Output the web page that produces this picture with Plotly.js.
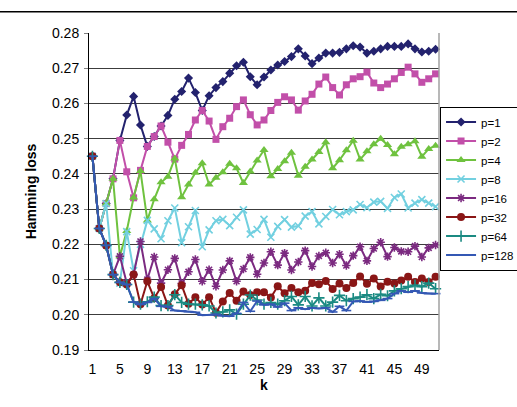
<!DOCTYPE html>
<html>
<head>
<meta charset="utf-8">
<script src="https://cdn.plot.ly/plotly-3.0.1.min.js"></script>
<style>
html,body{margin:0;padding:0;background:#fff;}
#chart{width:517px;height:407px;}
</style>
</head>
<body>
<div id="chart"></div>
<script>
const k = [];
for (let i = 1; i <= 51; i++) k.push(i);
const xTicks = [1,5,9,13,17,21,25,29,33,37,41,45,49];

const p1 = [0.2450,0.2245,0.2316,0.2386,0.2495,0.2567,0.2620,0.2539,0.2478,0.2506,
            0.2536,0.2566,0.2612,0.2634,0.2672,0.2631,0.2580,0.2622,0.2645,0.2662,
            0.2686,0.2707,0.2717,0.2676,0.2653,0.2675,0.2695,0.2709,0.2719,0.2733,
            0.2755,0.2735,0.2713,0.2729,0.2743,0.2743,0.2745,0.2755,0.2764,0.2760,
            0.2743,0.2748,0.2755,0.2762,0.2762,0.2762,0.2769,0.2755,0.2746,0.2748,0.2754];
const p2 = [0.2450,0.2245,0.2316,0.2386,0.2495,0.2406,0.2332,0.2410,0.2478,0.2506,
            0.2536,0.2490,0.2442,0.2481,0.2512,0.2553,0.2580,0.2550,0.2498,0.2534,
            0.2558,0.2591,0.2610,0.2568,0.2539,0.2553,0.2580,0.2603,0.2619,0.2610,
            0.2581,0.2607,0.2626,0.2655,0.2675,0.2645,0.2624,0.2653,0.2670,0.2676,
            0.2689,0.2658,0.2645,0.2655,0.2670,0.2688,0.2703,0.2684,0.2660,0.2670,0.2684];
const p4 = [0.2450,0.2245,0.2316,0.2386,0.2166,0.2238,0.2333,0.2408,0.2268,0.2328,
            0.2376,0.2392,0.2444,0.2334,0.2370,0.2403,0.2430,0.2370,0.2389,0.2405,
            0.2429,0.2416,0.2374,0.2407,0.2438,0.2468,0.2393,0.2414,0.2436,0.2460,
            0.2395,0.2420,0.2441,0.2462,0.2490,0.2416,0.2439,0.2467,0.2494,0.2441,
            0.2464,0.2484,0.2500,0.2482,0.2456,0.2477,0.2484,0.2493,0.2449,0.2471,0.2480];
const p8 = [0.2450,0.2245,0.2316,0.2114,0.2090,0.2236,0.2125,0.2200,0.2268,0.2244,
            0.2216,0.2267,0.2303,0.2205,0.2250,0.2296,0.2193,0.2241,0.2267,0.2271,
            0.2253,0.2277,0.2298,0.2229,0.2242,0.2271,0.2220,0.2251,0.2270,0.2249,
            0.2252,0.2280,0.2293,0.2258,0.2279,0.2299,0.2284,0.2293,0.2298,0.2313,
            0.2304,0.2320,0.2322,0.2302,0.2333,0.2343,0.2303,0.2317,0.2327,0.2317,0.2307];
const p16 = [0.2450,0.2245,0.2197,0.2114,0.2166,0.2090,0.2114,0.2208,0.2100,0.2164,
             0.2090,0.2128,0.2160,0.2089,0.2122,0.2157,0.2095,0.2128,0.2081,0.2127,
             0.2153,0.2095,0.2130,0.2163,0.2115,0.2147,0.2179,0.2141,0.2175,0.2127,
             0.2150,0.2182,0.2137,0.2167,0.2176,0.2147,0.2172,0.2140,0.2168,0.2193,
             0.2153,0.2188,0.2206,0.2165,0.2191,0.2180,0.2179,0.2195,0.2164,0.2190,0.2198];
const p32 = [0.2450,0.2245,0.2197,0.2114,0.2092,0.2086,0.2114,0.2030,0.2095,0.2047,
             0.2079,0.2026,0.2058,0.2084,0.2031,0.2050,0.2029,0.2050,0.2006,0.2038,
             0.2062,0.2040,0.2066,0.2056,0.2064,0.2064,0.2049,0.2081,0.2061,0.2076,
             0.2064,0.2068,0.2090,0.2087,0.2096,0.2073,0.2089,0.2076,0.2090,0.2109,
             0.2088,0.2103,0.2080,0.2094,0.2089,0.2097,0.2108,0.2093,0.2103,0.2093,0.2108];
const p64 = [0.2450,0.2245,0.2197,0.2114,0.2092,0.2086,0.2036,0.2030,0.2037,0.2050,
             0.2026,0.2026,0.2057,0.2035,0.2030,0.2030,0.2028,0.2025,0.2005,0.2008,
             0.2014,0.2002,0.2030,0.2056,0.2042,0.2030,0.2035,0.2030,0.2040,0.2052,
             0.2028,0.2052,0.2025,0.2048,0.2025,0.2036,0.2055,0.2040,0.2046,0.2050,
             0.2057,0.2046,0.2058,0.2054,0.2068,0.2074,0.2080,0.2084,0.2080,0.2090,0.2074];
const p128 = [0.2450,0.2245,0.2197,0.2114,0.2092,0.2086,0.2036,0.2029,0.2035,0.2046,
              0.2024,0.2023,0.2012,0.2011,0.2009,0.2007,0.1999,0.2000,0.2001,0.1997,
              0.1996,0.2004,0.2035,0.2010,0.2039,0.2028,0.2030,0.2022,0.2033,0.2012,
              0.2020,0.2016,0.2020,0.2018,0.2020,0.2008,0.2024,0.2012,0.2038,0.2039,
              0.2036,0.2038,0.2041,0.2046,0.2060,0.2068,0.2064,0.2068,0.2062,0.2060,0.2060];

const seriesNames = ['p=1','p=2','p=4','p=8','p=16','p=32','p=64','p=128'];
const seriesData = [p1,p2,p4,p8,p16,p32,p64,p128];
const colors = ['#23226e','#c24fa9','#6fc23f','#72d0e0','#7b2a80','#8a1616','#1b8a82','#3458b4'];
const symbols = ['diamond','square','triangle-up','x-thin-open','asterisk-open','circle','cross-thin-open','line-ew-open'];
const sizes = [7,7,8,7,7,8,8,7];

const FONT = 'Liberation Sans, Arial, sans-serif';

const traces = seriesData.map((y, i) => ({
  type: 'scatter',
  mode: 'lines+markers',
  x: k,
  y: y,
  name: seriesNames[i],
  line: {color: colors[i], width: 2},
  marker: {symbol: symbols[i], size: sizes[i], color: colors[i],
           line: {color: colors[i], width: (symbols[i].indexOf('open') >= 0) ? 1.6 : 0}},
  cliponaxis: false
}));

const layout = {
  width: 517, height: 407,
  margin: {l: 89, r: 78, t: 33, b: 57, autoexpand: false},
  paper_bgcolor: '#ffffff',
  plot_bgcolor: '#ffffff',
  font: {family: FONT, size: 14, color: '#000'},
  showlegend: true,
  legend: {
    x: 1.003, xanchor: 'left', y: 0.768, yanchor: 'top',
    bgcolor: '#ffffff', bordercolor: '#000000', borderwidth: 1,
    font: {family: FONT, size: 11.5, color: '#000'},
    itemwidth: 30, tracegroupgap: 0
  },
  xaxis: {
    range: [0.5, 51.5],
    tickmode: 'array', tickvals: xTicks, ticktext: xTicks.map(String),
    showgrid: false, zeroline: false,
    showline: true, linecolor: '#000', linewidth: 1,
    ticks: '', ticklabelstandoff: 6, tickfont: {family: FONT, size: 14},
    title: {text: '<b>k</b>', font: {family: FONT, size: 14}, standoff: 4}
  },
  yaxis: {
    range: [0.19, 0.28],
    tickmode: 'linear', tick0: 0.19, dtick: 0.01, tickformat: '.2f',
    showgrid: true, gridcolor: '#3c3c3c', gridwidth: 1, zeroline: false,
    showline: true, linecolor: '#000', linewidth: 1,
    ticks: 'outside', ticklen: 4, tickcolor: '#808080',
    ticklabelstandoff: 2,
    tickfont: {family: FONT, size: 14},
    title: {text: '<b>Hamming loss</b>', font: {family: FONT, size: 14}, standoff: 12}
  },
  shapes: [
    {type: 'line', xref: 'paper', yref: 'paper', x0: 1, x1: 1, y0: 0, y1: 1,
     line: {color: '#a0a0a0', width: 1.5}},
    {type: 'line', xref: 'paper', yref: 'paper', x0: -0.3, x1: 1.3, y0: 1.067, y1: 1.067,
     line: {color: '#000', width: 1.5}}
  ]
};

Plotly.newPlot('chart', traces, layout, {displayModeBar: false, staticPlot: true});
</script>
</body>
</html>
